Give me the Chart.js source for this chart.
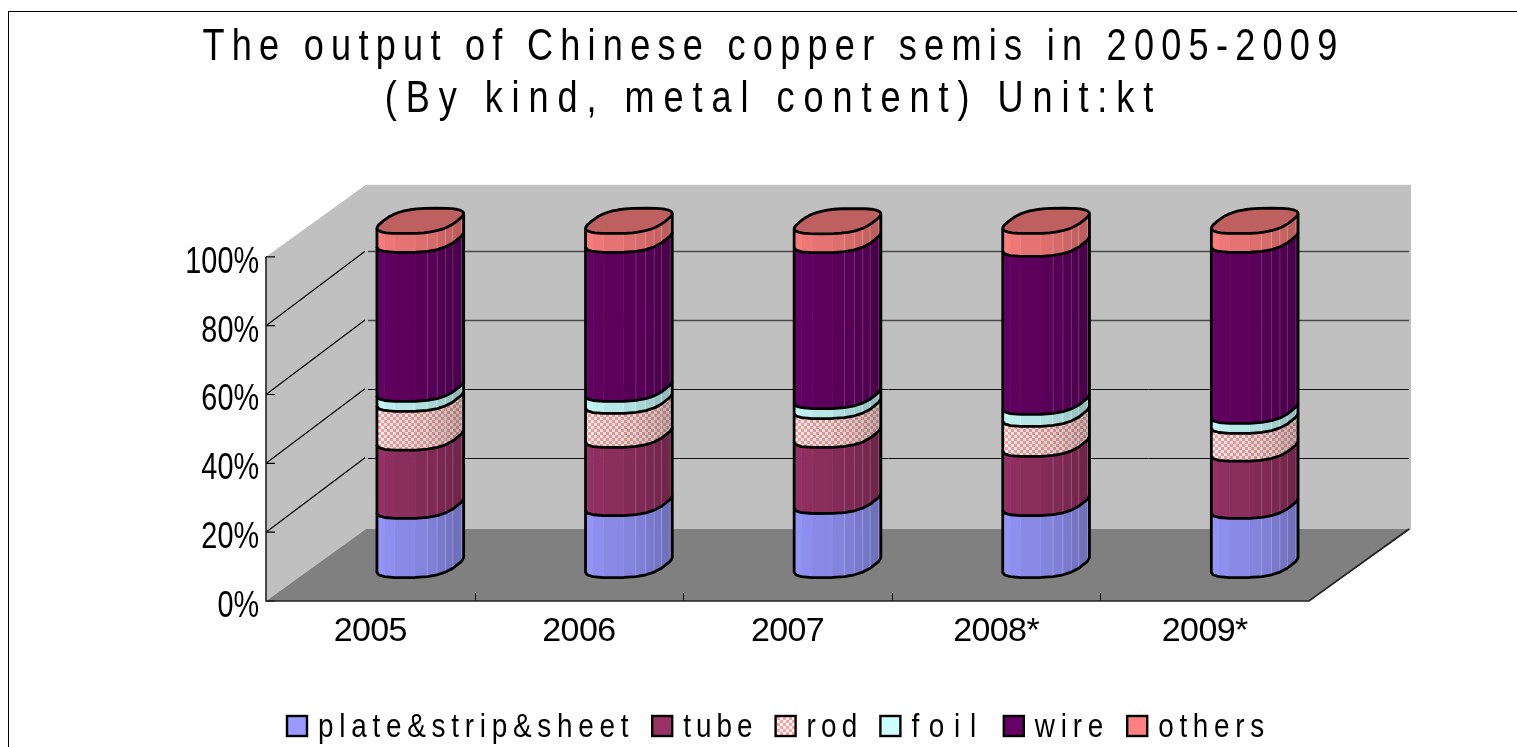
<!DOCTYPE html>
<html lang="en">
<head>
  <meta charset="UTF-8">
  <title>The output of Chinese copper semis in 2005-2009</title>
  <style>
    html, body { margin: 0; padding: 0; background: #fff; overflow: hidden; }
    canvas { display: block; }
  </style>
  <script src="https://cdn.jsdelivr.net/npm/chart.js"></script>
</head>
<body>
  <canvas id="chart" width="1517" height="747"></canvas>

  <script>
    // values, share of each kind in %
    const years = ['2005', '2006', '2007', '2008*', '2009*'];
    const plate = [17.2, 18.0, 18.6, 18.0, 17.2];
    const tube = [19.8, 19.8, 19.2, 17.2, 16.6];
    const rod = [11.3, 9.9, 8.4, 8.7, 8.1];
    const foil = [2.9, 3.5, 2.9, 3.5, 2.9];
    const wire = [43.3, 43.3, 45.3, 45.9, 49.7];
    const others = [5.5, 5.5, 5.5, 6.7, 5.5];
    const kinds = ['plate&strip&sheet', 'tube', 'rod', 'foil', 'wire', 'others'];
    const titleLines = ['The output of Chinese copper semis in 2005-2009', '(By kind, metal content) Unit:kt'];

    const FONT = '"Liberation Sans", sans-serif';
    const SQUEEZE = 0.82;     // the reference face is much narrower than anything installed
    const DEPTH_X = 100;      // how far the back wall sits from the front plane
    const WALL_DY = -72;
    const GRID_DY = -74.5;
    const BAR_DX = 50;        // bars stand half way into the depth
    const BAR_DY = -36;
    const FACETS = 10;
    const SIDE_ANGLE = 28 * Math.PI / 180;

    function checker() {
      const c = document.createElement('canvas');
      c.width = c.height = 6;
      const g = c.getContext('2d');
      g.fillStyle = '#FFFFCC';
      g.fillRect(0, 0, 6, 6);
      g.fillStyle = '#FF99CC';
      g.fillRect(0, 0, 3, 3);
      g.fillRect(3, 3, 3, 3);
      return g.createPattern(c, 'repeat');
    }

    const colors = ['#9999FF', '#993366', checker(), '#CCFFFF', '#660066', '#FF8080'];
    const series = [plate, tube, rod, foil, wire, others];

    // point on the blunt round section of a bar, skewed along the floor depth
    function ring(cx, cy, r, t) {
      const pow = v => Math.sign(v) * Math.pow(Math.abs(v), 0.7);
      const u = pow(Math.cos(t)), v = pow(Math.sin(t));
      return [cx + r * 0.85 * u + r * 0.37 * v, cy - r * 0.29 * v];
    }

    function frontArc(cx, cy, r) {
      const pts = [];
      for (let k = 0; k <= FACETS; k++) {
        pts.push(ring(cx, cy, r, SIDE_ANGLE + Math.PI + Math.PI * k / FACETS));
      }
      return pts;
    }

    function poly(ctx, pts) {
      ctx.beginPath();
      pts.forEach((p, i) => i ? ctx.lineTo(p[0], p[1]) : ctx.moveTo(p[0], p[1]));
    }

    function drawSegment(ctx, el, color, isTop) {
      const cx = el.x + BAR_DX;
      const r = el.width / 2;
      const low = frontArc(cx, el.base + BAR_DY, r);
      const high = frontArc(cx, el.y + BAR_DY, r);

      for (let k = 0; k < FACETS; k++) {
        const quad = [low[k], low[k + 1], high[k + 1], high[k]];
        poly(ctx, quad);
        ctx.closePath();
        ctx.fillStyle = color;
        ctx.strokeStyle = color;
        ctx.lineWidth = 0.6;
        ctx.fill();
        if (typeof color === 'string') ctx.stroke();
        ctx.fillStyle = `rgba(0,0,0,${0.3 * k / (FACETS - 1)})`;
        ctx.fill();
        // light seams on the shaded half
        if (k >= FACETS / 2) {
          ctx.beginPath();
          ctx.moveTo(low[k][0], low[k][1]);
          ctx.lineTo(high[k][0], high[k][1]);
          ctx.strokeStyle = 'rgba(255,255,255,0.16)';
          ctx.lineWidth = 1;
          ctx.stroke();
        }
      }

      ctx.strokeStyle = '#000';
      ctx.lineWidth = 2.8;
      ctx.lineJoin = 'round';
      poly(ctx, [high[0]].concat(low, [high[FACETS]]));
      ctx.stroke();

      if (isTop) {
        const disc = [];
        for (let k = 0; k < 32; k++) disc.push(ring(cx, el.y + BAR_DY, r, Math.PI * 2 * k / 32));
        poly(ctx, disc);
        ctx.closePath();
        ctx.fillStyle = color;
        ctx.fill();
        ctx.fillStyle = 'rgba(0,0,0,0.25)';
        ctx.fill();
        ctx.stroke();
      }
    }

    // letter spacing that makes a string as wide as n fixed cells, like the reference's font
    function fitSpacing(ctx, text, cell) {
      ctx.letterSpacing = '0px';
      const natural = ctx.measureText(text).width;
      return (cell / SQUEEZE - natural / text.length) + 'px';
    }

    // runs one of the library's own draw methods under an extra canvas setup
    function wrapDraw(box, method, setup) {
      const orig = box[method];
      box[method] = function () {
        box.ctx.save();
        setup(box.ctx);
        orig.apply(box, arguments);
        delete box.ctx.fillText;
        box.ctx.restore();
      };
    }

    const chart3d = {
      id: 'chart3d',
      afterLayout(chart) {
        if (chart.$wrapped) return;
        chart.$wrapped = true;
        wrapDraw(chart.titleBlock, 'draw', ctx => {
          const mid = (chart.titleBlock.left + chart.titleBlock.right) / 2;
          ctx.translate(mid, 0);
          ctx.scale(SQUEEZE, 1);
          ctx.translate(-mid, 0);
          // each title line gets its own spacing
          const fill = CanvasRenderingContext2D.prototype.fillText;
          ctx.fillText = function (text, x, y, w) {
            ctx.letterSpacing = fitSpacing(ctx, text, 24.3);
            fill.call(ctx, text, x, y);
          };
        });
        wrapDraw(chart.scales.y, 'drawLabels', ctx => {
          const edge = chart.scales.y.right - 7;
          ctx.translate(edge, 6);
          ctx.scale(0.8, 1);
          ctx.translate(-edge, 0);
        });
        wrapDraw(chart.scales.x, 'drawLabels', ctx => {
          ctx.letterSpacing = '-0.6px';
        });
      },
      beforeDraw(chart) {
        const { ctx, scales: { x, y } } = chart;
        const left = x.left, right = x.right;
        const bottom = y.getPixelForValue(0), top = y.getPixelForValue(100);
        const backL = left + DEPTH_X, backR = right + DEPTH_X + 2;

        ctx.save();
        ctx.strokeStyle = '#000';
        ctx.lineWidth = 1;
        ctx.strokeRect(8.5, 11.5, 1600, 900);

        // walls and floor
        ctx.fillStyle = '#C0C0C0';
        poly(ctx, [[left, top], [backL, top + WALL_DY], [backL, bottom + WALL_DY], [left, bottom]]);
        ctx.fill();
        ctx.fillRect(backL, top + WALL_DY, backR - backL, bottom - top);
        ctx.fillStyle = '#808080';
        poly(ctx, [[left, bottom], [right, bottom], [backR, bottom + WALL_DY], [backL, bottom + WALL_DY]]);
        ctx.fill();

        // grid on the left and back walls, ticks on the front edge
        y.ticks.forEach(t => {
          const py = y.getPixelForValue(t.value);
          ctx.lineWidth = 1.2;
          ctx.strokeStyle = '#000';
          ctx.beginPath();
          ctx.moveTo(left, py);
          ctx.lineTo(left + 9, py);
          if (t.value > 0 && t.value < 100) {
            ctx.moveTo(left, py);
            ctx.lineTo(backL - 1, py + GRID_DY);
            ctx.stroke();
            ctx.beginPath();
            ctx.strokeStyle = t.value > 50 ? '#4a4a4a' : '#111';
            ctx.lineWidth = t.value > 50 ? 1.4 : 1;
            ctx.moveTo(backL + 2, Math.round(py + GRID_DY) + 0.5);
            ctx.lineTo(backR - 2, Math.round(py + GRID_DY) + 0.5);
          }
          ctx.stroke();
        });
        years.forEach((_, i) => {
          const px = Math.round((x.getPixelForValue(i) + x.getPixelForValue(i + 1)) / 2) + 0.5;
          if (i < years.length - 1) {
            ctx.beginPath();
            ctx.moveTo(px, bottom);
            ctx.lineTo(px, bottom - 8);
            ctx.strokeStyle = '#111';
            ctx.lineWidth = 1;
            ctx.stroke();
          }
        });

        ctx.strokeStyle = '#222';
        ctx.lineWidth = 1.6;
        poly(ctx, [[left, top], [left, bottom], [right, bottom], [backR - 2, bottom + WALL_DY]]);
        ctx.stroke();
        ctx.restore();
      },
      beforeDatasetDraw() {
        return false;   // the stacks are drawn below, the flat bars stay hidden
      },
      afterDatasetsDraw(chart) {
        const ctx = chart.ctx;
        ctx.save();
        years.forEach((_, i) => {
          series.forEach((_s, d) => {
            drawSegment(ctx, chart.getDatasetMeta(d).data[i], colors[d], d === series.length - 1);
          });
        });
        ctx.restore();
      },
      afterDraw(chart) {
        // legend with fixed text cells, the built-in one leaves too wide a gap
        const ctx = chart.ctx;
        const cell = 18.6;
        let px = 287;
        ctx.save();
        ctx.font = '34px ' + FONT;
        ctx.textBaseline = 'alphabetic';
        kinds.forEach((name, i) => {
          ctx.fillStyle = colors[i];
          ctx.fillRect(px, 716, 20, 20);
          ctx.strokeStyle = '#000';
          ctx.lineWidth = 2.4;
          ctx.strokeRect(px, 716, 20, 20);
          ctx.letterSpacing = fitSpacing(ctx, name, cell);
          ctx.fillStyle = '#000';
          ctx.save();
          ctx.translate(px + 31, 737);
          ctx.scale(SQUEEZE, 1);
          ctx.fillText(name, 0, 0);
          ctx.restore();
          px += 31 + name.length * cell + 18;
        });
        ctx.restore();
      }
    };

    new Chart(document.getElementById('chart'), {
      type: 'bar',
      plugins: [chart3d],
      data: {
        labels: years,
        datasets: kinds.map((name, i) => ({
          label: name,
          data: series[i],
          backgroundColor: colors[i],
          yAxisID: 'y'
        }))
      },
      options: {
        responsive: false,
        animation: false,
        layout: { autoPadding: false, padding: { left: 30 } },
        datasets: { bar: { categoryPercentage: 1, barPercentage: 0.417 } },
        plugins: {
          legend: { display: false },
          tooltip: { enabled: false },
          title: {
            display: true,
            text: titleLines,
            color: '#000',
            font: { family: FONT, size: 44, weight: 'normal', lineHeight: 1.18 },
            padding: { top: 22, bottom: 131 }
          }
        },
        scales: {
          x: {
            stacked: true,
            grid: { display: false, drawTicks: false },
            border: { display: false },
            ticks: { color: '#000', padding: 10, font: { family: FONT, size: 34 } },
            afterFit(s) { s.height = 146; }
          },
          y: {
            stacked: true,
            min: 0,
            max: 100,
            grid: { display: false, drawTicks: false },
            border: { display: false },
            ticks: {
              stepSize: 20,
              color: '#000',
              padding: 7,
              font: { family: FONT, size: 36 },
              callback: v => v + '%'
            },
            afterFit(s) { s.width = 236; }
          },
          // keeps the plot clear of the depth on the right, title stays centred on the page
          side: {
            type: 'linear',
            position: 'right',
            grid: { display: false },
            border: { display: false },
            ticks: { display: false },
            afterFit(s) { s.width = 208; }
          }
        }
      }
    });
  </script>
</body>
</html>
